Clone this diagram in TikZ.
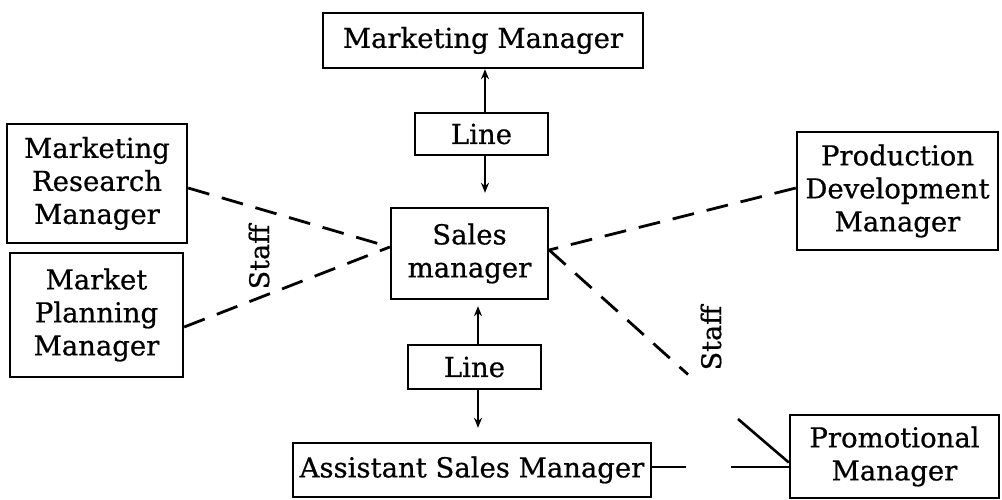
\documentclass[tikz,border=0pt]{standalone}
\usepackage{fontspec}
\setmainfont[FakeBold=0.6]{DejaVu Serif}
\usetikzlibrary{arrows.meta,calc}
\begin{document}
\begin{tikzpicture}[x=1pt,y=-1pt,
  box/.style={draw=black,line width=2.4pt,inner sep=0pt,align=center,
    font=\fontsize{27.5}{33}\selectfont},
  conn/.style={line width=2.6pt},
  dconn/.style={line width=2.8pt,dash pattern=on 22pt off 13pt},
  tip/.style={-{Stealth[length=10pt,width=8pt]}},
  lbl/.style={font=\fontsize{27}{33}\selectfont,rotate=90,inner sep=0pt}]
\useasboundingbox (0,0) rectangle (1002,500);
\fill[white] (0,0) rectangle (1002,500);
% nodes
\node[box,minimum width=320pt,minimum height=55pt] (mm) at (483,40.5) {Marketing Manager};
\node[box,minimum width=133pt,minimum height=42pt] (l1) at (481.5,134) {Line};
\node[box,minimum width=157pt,minimum height=91pt] (sm) at (469.5,253.5) {Sales\\manager};
\node[box,minimum width=133pt,minimum height=44pt] (l2) at (474.5,367) {Line};
\node[box,minimum width=358pt,minimum height=54pt] (asm) at (472,470) {Assistant Sales Manager};
\node[box,minimum width=180pt,minimum height=119pt] (mrm) at (97,183.5) {Marketing\\Research\\Manager};
\node[box,minimum width=173pt,minimum height=124pt] (mpm) at (96.5,315) {Market\\Planning\\Manager};
\node[box,minimum width=201pt,minimum height=118pt] (pdm) at (897.5,191) {Production\\Development\\Manager};
\node[box,minimum width=209pt,minimum height=83pt] (pm) at (894.5,456.5) {Promotional\\Manager};
\node[lbl] (staffL) at (259,257) {Staff};
\node[lbl] (staffR) at (711,338) {Staff};
% coordinates
\coordinate (smW) at ($(sm.west)+(0,-6.5)$);
\coordinate (smE) at ($(sm.east)+(0,-3.5)$);
\coordinate (mrmE) at ($(mrm.east)+(0,4.5)$);
\coordinate (mpmE) at ($(mpm.east)+(0,12)$);
\coordinate (pdmW) at ($(pdm.west)+(0,-3)$);
\coordinate (pmW) at ($(pm.west)+(0,10.5)$);
\coordinate (pmD) at ($(pm.west)+(0,6)$);
\coordinate (c1) at (688,374.5);
\coordinate (c2) at (738,419);
\coordinate (asmE) at ($(asm.east)+(0,-3)$);
\coordinate (c3) at (686,467);
\coordinate (c4) at (731,467);
% line connectors
\draw[conn,tip] (l1.north -| mm.south) ++(2,0) coordinate (a1) -- (a1 |- mm.south);
\draw[conn,tip] (l1.south) ++(3.5,0) coordinate (a2) -- ($(a2 |- sm.north)+(0,-14)$);
\draw[conn,tip] (l2.north) ++(3.5,0) coordinate (a3) -- ($(a3 |- sm.south)+(0,6)$);
\draw[conn,tip] (l2.south) ++(3.5,0) coordinate (a4) -- ($(a4 |- asm.north)+(0,-14)$);
% staff connectors
\draw[dconn] (mrmE) -- (smW);
\draw[dconn] (mpmE) -- (smW);
\draw[dconn] (pdmW) -- (smE);
\draw[dconn] (smE) -- (c1);
\draw[conn] (c2) -- (pmD);
\draw[conn] (asmE) -- (c3);
\draw[conn] (c4) -- (pmW);
\end{tikzpicture}
\end{document}
